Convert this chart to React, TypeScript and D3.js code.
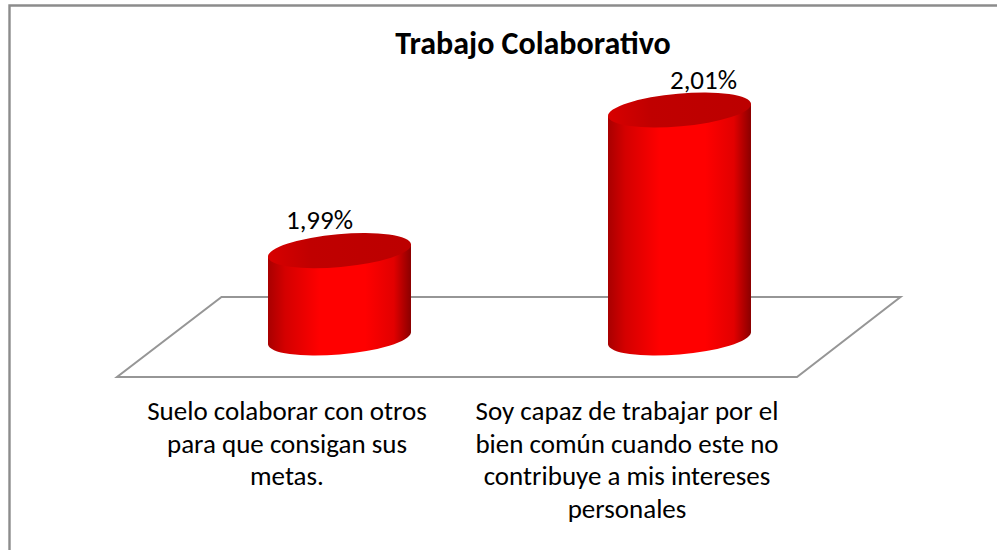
import * as d3 from "d3";
import { useMemo } from "react";

const categories = ["suelo", "soy"];
const values = [1.99, 2.01];
const valueLabels = ["1,99%", "2,01%"];
const categoryLines = [
  ["Suelo colaborar con otros", "para que consigan sus", "metas."],
  ["Soy capaz de trabajar por el", "bien común cuando este no", "contribuye a mis intereses", "personales"],
];
const labelNudge = [-20, 24];

const width = 997;
const height = 550;
const font = "Carlito, Calibri, Lato, 'Open Sans', sans-serif";

// cylinder ellipse, worked out from the picture
const barHalf = 71.5;
const rx = 71.8;
const ry = 16.4;
const tilt = -5.06;
const sideDrop = 6;

const baseY = 338.5;

export default function App() {
  const x = useMemo(() => d3.scaleBand().domain(categories).range([169.5, 849.5]), []);
  const y = useMemo(() => d3.scaleLinear().domain([1.9775, 2.01]).range([baseY, 110]), []);

  const floor = d3.line()([
    [221.5, 297],
    [900.5, 297],
    [797, 377],
    [117, 377],
  ]) + "Z";

  return (
    <svg
      width={width}
      height={height}
      style={{ position: "absolute", left: 0, top: 0, background: "#fff" }}
      fontFamily={font}
    >
      <defs>
        <linearGradient id="side" x1="0" x2="1" y1="0" y2="0">
          <stop offset="0" stopColor="#a80000" />
          <stop offset="0.12" stopColor="#d40000" />
          <stop offset="0.36" stopColor="#ff0000" />
          <stop offset="0.68" stopColor="#ff0000" />
          <stop offset="0.88" stopColor="#e20000" />
          <stop offset="1" stopColor="#8a0000" />
        </linearGradient>
        <linearGradient id="cap" x1="0" x2="1" y1="0" y2="0">
          <stop offset="0" stopColor="#d80000" />
          <stop offset="0.3" stopColor="#c00000" />
          <stop offset="1" stopColor="#bc0000" />
        </linearGradient>
      </defs>

      <path d="M9.5 550V5.5H997" fill="none" stroke="#8c8c8c" strokeWidth={2.4} />
      <path d={floor} fill="#fff" stroke="#969696" strokeWidth={2} />

      {categories.map((c, i) => {
        const cx = x(c)! + x.bandwidth() / 2;
        const top = y(values[i]);
        const x0 = cx - barHalf;
        const x1 = cx + barHalf;
        const side =
          `M${x0} ${top + sideDrop}L${x0} ${baseY + sideDrop}` +
          `A${rx} ${ry} ${tilt} 0 0 ${x1} ${baseY - sideDrop}` +
          `L${x1} ${top - sideDrop}Z`;
        return (
          <g key={c}>
            <path d={side} fill="url(#side)" />
            <ellipse
              cx={cx}
              cy={top}
              rx={rx}
              ry={ry}
              transform={`rotate(${tilt} ${cx} ${top})`}
              fill="url(#cap)"
            />
            <text
              x={cx + labelNudge[i]}
              y={top - 21.5}
              textAnchor="middle"
              fontSize={27}
              fill="#000"
            >
              {valueLabels[i]}
            </text>
            <text textAnchor="middle" fontSize={27} fill="#000">
              {categoryLines[i].map((line, j) => (
                <tspan key={j} x={cx - 52.5} y={420 + j * 32.6}>
                  {line}
                </tspan>
              ))}
            </text>
          </g>
        );
      })}

      <text x={533} y={54} textAnchor="middle" fontSize={32} fontWeight="bold" fill="#000">
        Trabajo Colaborativo
      </text>
    </svg>
  );
}
